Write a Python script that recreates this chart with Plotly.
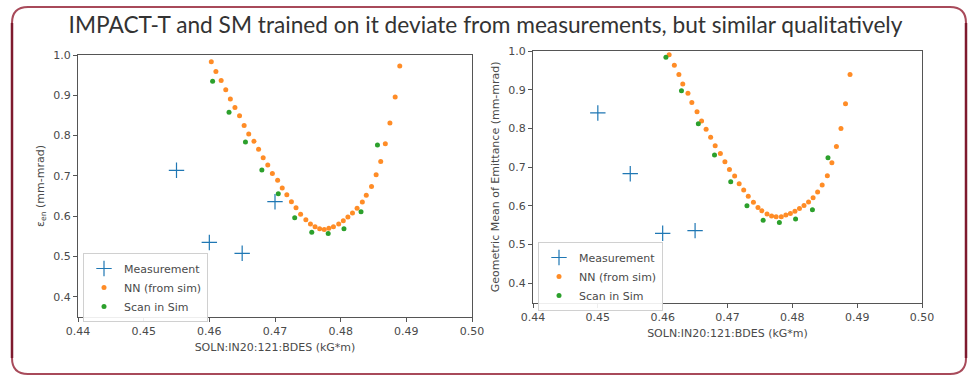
import plotly.graph_objects as go

W, H = 971, 382

TITLE = "IMPACT-T and SM trained on it deviate from measurements, but similar qualitatively"
X_TITLE = "SOLN:IN20:121:BDES (kG*m)"
Y_TITLE_LEFT = "ε<sub>en</sub> (mm-mrad)"
Y_TITLE_RIGHT = "Geometric Mean of Emittance (mm-mrad)"

X_TICKS = [0.44, 0.45, 0.46, 0.47, 0.48, 0.49, 0.50]
Y_TICKS = [0.4, 0.5, 0.6, 0.7, 0.8, 0.9, 1.0]

# ---- left panel: normalized emittance ----
meas_x_left = [0.455, 0.460, 0.465, 0.470]
meas_y_left = [0.714, 0.535, 0.508, 0.636]

nn_x_left = [0.4603, 0.4610, 0.4618, 0.4625, 0.4632, 0.4639, 0.4646, 0.4653, 0.4660,
             0.4668, 0.4675, 0.4682, 0.4689, 0.4696, 0.4704, 0.4711, 0.4718, 0.4725,
             0.4732, 0.4739, 0.4747, 0.4754, 0.4761, 0.4768, 0.4775, 0.4782, 0.4789,
             0.4797, 0.4804, 0.4811, 0.4818, 0.4825, 0.4833, 0.4839, 0.4847, 0.4854,
             0.4861, 0.4868, 0.4875, 0.4883, 0.4890]
nn_y_left = [0.983, 0.959, 0.937, 0.914, 0.891, 0.870, 0.849, 0.825, 0.804,
             0.786, 0.766, 0.745, 0.727, 0.706, 0.689, 0.670, 0.653, 0.636,
             0.621, 0.605, 0.591, 0.581, 0.574, 0.569, 0.567, 0.570, 0.574,
             0.581, 0.589, 0.598, 0.608, 0.620, 0.635, 0.652, 0.674, 0.703,
             0.736, 0.780, 0.831, 0.896, 0.973]

sim_x_left = [0.4605, 0.4630, 0.4655, 0.4680, 0.4705, 0.4730, 0.4756, 0.4781, 0.4805,
              0.4831, 0.4856]
sim_y_left = [0.935, 0.858, 0.784, 0.715, 0.656, 0.596, 0.560, 0.557, 0.569,
              0.611, 0.777]

# ---- right panel: geometric mean of emittance ----
meas_x_right = [0.450, 0.455, 0.460, 0.465]
meas_y_right = [0.840, 0.683, 0.529, 0.536]

nn_x_right = [0.4610, 0.4618, 0.4625, 0.4631, 0.4639, 0.4645, 0.4653, 0.4660, 0.4667,
              0.4674, 0.4681, 0.4689, 0.4696, 0.4703, 0.4711, 0.4718, 0.4725, 0.4732,
              0.4740, 0.4747, 0.4753, 0.4761, 0.4768, 0.4775, 0.4783, 0.4790, 0.4797,
              0.4804, 0.4811, 0.4818, 0.4825, 0.4832, 0.4839, 0.4846, 0.4854, 0.4861,
              0.4868, 0.4875, 0.4882, 0.4889]
nn_y_right = [0.990, 0.963, 0.939, 0.915, 0.891, 0.867, 0.843, 0.819, 0.798,
              0.777, 0.755, 0.735, 0.714, 0.694, 0.677, 0.657, 0.641, 0.625,
              0.609, 0.596, 0.587, 0.579, 0.574, 0.572, 0.572, 0.576, 0.580,
              0.586, 0.593, 0.601, 0.610, 0.621, 0.636, 0.654, 0.678, 0.711,
              0.753, 0.800, 0.864, 0.939]

sim_x_right = [0.4605, 0.4629, 0.4655, 0.4680, 0.4705, 0.4730, 0.4755, 0.4780, 0.4805,
               0.4831, 0.4855]
sim_y_right = [0.984, 0.897, 0.812, 0.731, 0.662, 0.600, 0.563, 0.557, 0.566,
               0.590, 0.724]

BLUE, ORANGE, GREEN = "#1f77b4", "#ff7f0e", "#2ca02c"
TEXT = "#4a4a4a"
AXIS = "#555555"


def px(x):
    return x / W


def py(y):
    return 1 - y / H


fig = go.Figure()


def add_panel(mx, my, nx, ny, sx, sy, xa, ya, legend):
    fig.add_trace(go.Scatter(
        x=mx, y=my, mode="markers", name="Measurement", xaxis=xa, yaxis=ya, legend=legend,
        marker=dict(symbol="cross-thin", size=11, line=dict(color=BLUE, width=1.2), color=BLUE)))
    fig.add_trace(go.Scatter(
        x=nx, y=ny, mode="markers", name="NN (from sim)", xaxis=xa, yaxis=ya, legend=legend,
        marker=dict(symbol="circle", size=5, color=ORANGE, opacity=0.9)))
    fig.add_trace(go.Scatter(
        x=sx, y=sy, mode="markers", name="Scan in Sim", xaxis=xa, yaxis=ya, legend=legend,
        marker=dict(symbol="circle", size=5, color=GREEN)))


add_panel(meas_x_left, meas_y_left, nn_x_left, nn_y_left, sim_x_left, sim_y_left, "x", "y", "legend")
add_panel(meas_x_right, meas_y_right, nn_x_right, nn_y_right, sim_x_right, sim_y_right, "x2", "y2", "legend2")

axis_common = dict(
    showline=True, linecolor=AXIS, linewidth=1.2, mirror=True, showgrid=False, zeroline=False,
    ticks="outside", ticklen=4, tickcolor=AXIS, automargin=False,
    tickfont=dict(family="DejaVu Sans", size=11, color=TEXT),
)

legend_common = dict(
    bgcolor="rgba(255,255,255,0.9)", bordercolor="#d0d0d0", borderwidth=1,
    font=dict(family="DejaVu Sans", size=11, color=TEXT), xanchor="left", yanchor="top",
    tracegroupgap=0, itemsizing="trace",
)

title_font = dict(family="DejaVu Sans", size=11, color=TEXT)

fig.update_layout(
    width=W, height=H,
    margin=dict(l=0, r=0, t=0, b=0, autoexpand=False),
    paper_bgcolor="white", plot_bgcolor="white",
    showlegend=True,
    xaxis=dict(domain=[px(78), px(472)], range=[0.44, 0.50], tickvals=X_TICKS, tickformat=".2f",
               anchor="y", title=dict(text=X_TITLE, standoff=6, font=title_font), **axis_common),
    yaxis=dict(domain=[py(317), py(55)], range=[0.35, 1.0], tickvals=Y_TICKS, tickformat=".1f",
               anchor="x", title=dict(text=Y_TITLE_LEFT, standoff=6, font=title_font), **axis_common),
    xaxis2=dict(domain=[px(533), px(922)], range=[0.44, 0.50], tickvals=X_TICKS, tickformat=".2f",
                anchor="y2", title=dict(text=X_TITLE, standoff=6, font=title_font), **axis_common),
    yaxis2=dict(domain=[py(302.6), py(51)], range=[0.35, 1.0], tickvals=Y_TICKS, tickformat=".1f",
                anchor="x2", title=dict(text=Y_TITLE_RIGHT, standoff=6, font=title_font), **axis_common),
    legend=dict(x=px(83), y=py(253), **legend_common),
    legend2=dict(x=px(538), y=py(242), **legend_common),
    title=dict(text=TITLE, x=0.5, xanchor="center", y=py(25), yanchor="middle",
               font=dict(family="Lato", size=22.7, color="#333333")),
)

# rounded frame around the slide
r = 16
x0, x1, y0, y1 = 12, 966, 7, 374
path = (f"M {px(x0 + r)},{py(y0)} L {px(x1 - r)},{py(y0)} "
        f"Q {px(x1)},{py(y0)} {px(x1)},{py(y0 + r)} "
        f"L {px(x1)},{py(y1 - r)} Q {px(x1)},{py(y1)} {px(x1 - r)},{py(y1)} "
        f"L {px(x0 + r)},{py(y1)} Q {px(x0)},{py(y1)} {px(x0)},{py(y1 - r)} "
        f"L {px(x0)},{py(y0 + r)} Q {px(x0)},{py(y0)} {px(x0 + r)},{py(y0)} Z")
fig.add_shape(type="path", path=path, xref="paper", yref="paper",
              line=dict(color="#a84a5a", width=2), layer="above")
# heavier side edges of the frame
for xe in (x0, x1):
    fig.add_shape(type="line", xref="paper", yref="paper",
                  x0=px(xe), x1=px(xe), y0=py(y1 - r), y1=py(y0 + r),
                  line=dict(color="#7e1a2e", width=2.5), layer="above")

fig.write_html("out.html")
